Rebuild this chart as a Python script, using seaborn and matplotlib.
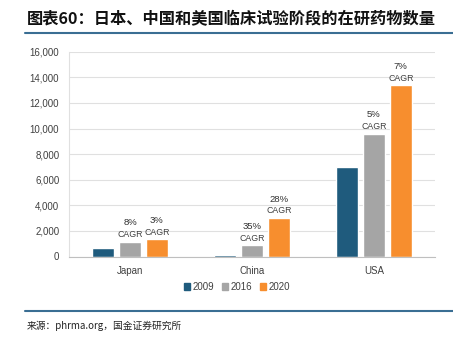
import matplotlib
matplotlib.use("Agg")
import matplotlib.pyplot as plt
import seaborn as sns
import pandas as pd
from matplotlib.lines import Line2D
from matplotlib.patches import Rectangle

countries = ["Japan", "China", "USA"]
years = ["2009", "2016", "2020"]
v2009 = [660, 130, 6990]
v2016 = [1130, 860, 9590]
v2020 = [1330, 3000, 13370]
cagr2016 = ["8%", "35%", "5%"]
cagr2020 = ["3%", "28%", "7%"]
colors = ["#1F5B7D", "#A5A5A5", "#F78E2E"]
title = "图表60：日本、中国和美国临床试验阶段的在研药物数量"
source = "来源：phrma.org，国金证券研究所"

df = pd.DataFrame({
    "country": countries * 3,
    "year": [years[0]] * 3 + [years[1]] * 3 + [years[2]] * 3,
    "value": v2009 + v2016 + v2020,
})

sns.set_theme(style="white")
plt.rcParams["font.family"] = ["Liberation Sans", "Noto Sans CJK SC", "DejaVu Sans"]

fig = plt.figure(figsize=(4.53, 3.37), dpi=100)
ax = fig.add_axes([69 / 453, 1 - 256.5 / 337, (435 - 69) / 453, (256.5 - 51.7) / 337])

sns.barplot(data=df, x="country", y="value", hue="year", order=countries,
            hue_order=years, palette=colors, width=0.66, gap=0.2,
            saturation=1, ax=ax, legend=False, errorbar=None)

ax.set_ylim(0, 16000)
ax.set_xlim(-0.5, 2.5)
ax.set_yticks(range(0, 16001, 2000))
ax.set_yticklabels([f"{v:,}" for v in range(0, 16001, 2000)], fontsize=7, color="#404040")
ax.tick_params(axis="x", labelsize=7, colors="#404040", length=0, pad=7)
ax.tick_params(axis="y", length=0, pad=7)
ax.set_xticks([-0.5, 0.5, 1.5, 2.5], minor=True)
ax.tick_params(axis="x", which="minor", length=4, color="#BFBFBF", width=0.8, direction="out")
ax.set_xlabel("")
ax.set_ylabel("")
ax.yaxis.grid(True, color="#E0E0E0", linewidth=0.8)
ax.set_axisbelow(True)
for s in ["top", "right"]:
    ax.spines[s].set_visible(False)
ax.spines["left"].set_color("#E0E0E0")
ax.spines["left"].set_linewidth(0.8)
ax.spines["bottom"].set_color("#BFBFBF")
ax.spines["bottom"].set_linewidth(0.8)

labels_by_container = [None, cagr2016, cagr2020]
for ci, cont in enumerate(ax.containers):
    labs = labels_by_container[ci]
    if labs is None:
        continue
    for bar, lab in zip(cont, labs):
        x = bar.get_x() + bar.get_width() / 2
        h = bar.get_height()
        ax.annotate("CAGR", (x, h), xytext=(0, 2), textcoords="offset points",
                    ha="center", va="bottom", fontsize=6.3, color="#404040")
        ax.annotate(lab, (x, h), xytext=(0, 10.5), textcoords="offset points",
                    ha="center", va="bottom", fontsize=6.8, color="#303030")

handles = [Rectangle((0, 0), 1, 1, color=c) for c in colors]
fig.legend(handles, years, loc="center", bbox_to_anchor=(237 / 453, 1 - 287 / 337),
           ncol=3, frameon=False, fontsize=7, handlelength=0.6, handleheight=0.6,
           handletextpad=0.3, columnspacing=0.8, labelcolor="#404040")

fig.text(27 / 453, 1 - 19 / 337, title, fontsize=11.7, fontweight="bold",
         family=["Noto Sans CJK SC"], ha="left", va="center", color="#111111",
         style="italic")
fig.add_artist(Line2D([25 / 453, 1.0], [1 - 33 / 337] * 2, color="#3A6E93",
                      linewidth=1.5, transform=fig.transFigure))
fig.add_artist(Line2D([25 / 453, 1.0], [1 - 311 / 337] * 2, color="#3A6E93",
                      linewidth=1.5, transform=fig.transFigure))
fig.text(27 / 453, 1 - 325.5 / 337, source, fontsize=7,
         family=["Noto Sans CJK SC"], ha="left", va="center", color="#222222")

fig.savefig("out.png", dpi=100)
